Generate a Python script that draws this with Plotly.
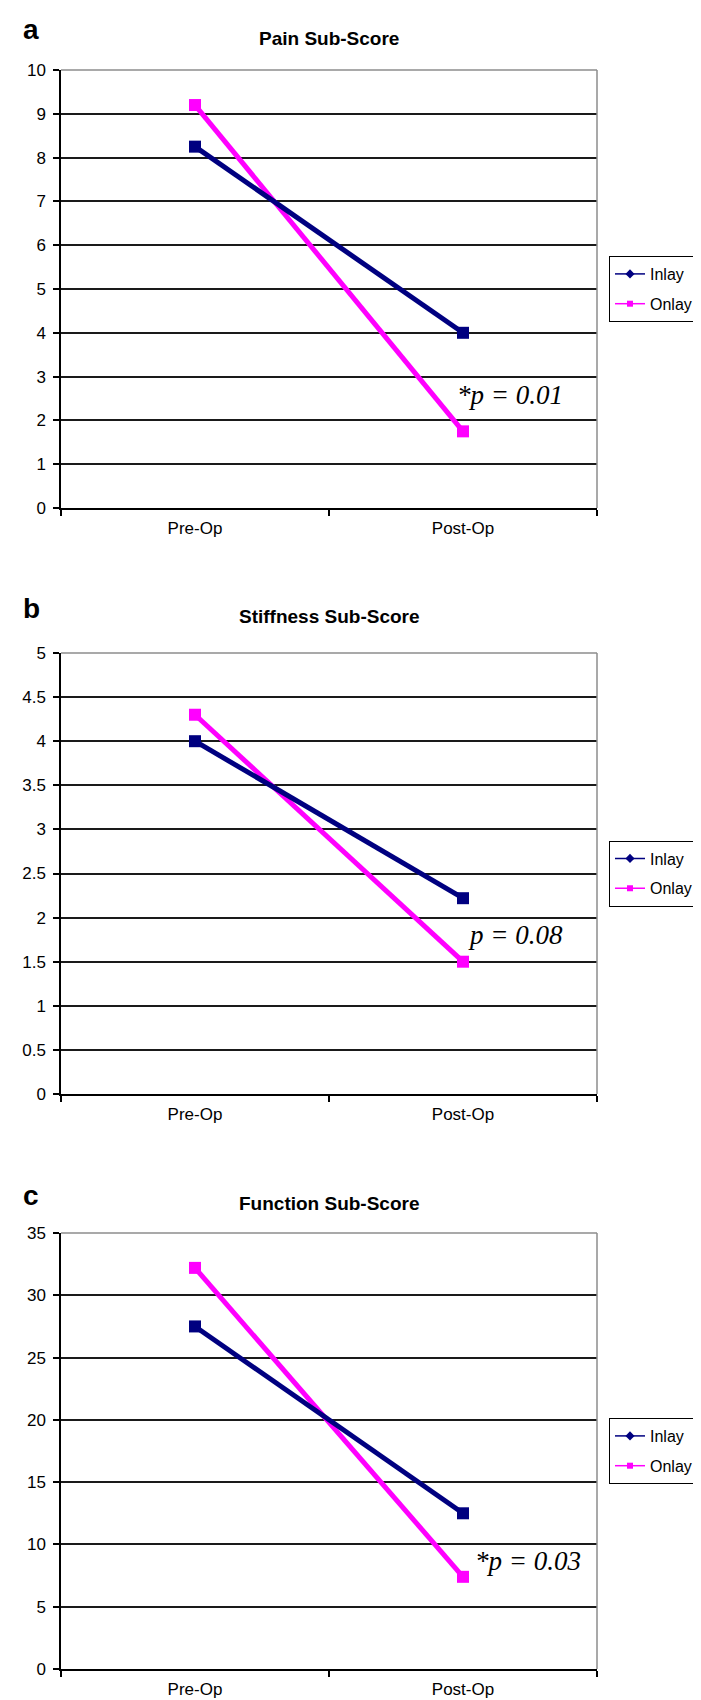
import plotly.graph_objects as go

W, H = 701, 1700

categories = ["Pre-Op", "Post-Op"]

pain_inlay = [8.25, 4.0]
pain_onlay = [9.2, 1.75]
stiff_inlay = [4.0, 2.22]
stiff_onlay = [4.3, 1.5]
func_inlay = [27.5, 12.5]
func_onlay = [32.2, 7.4]

panel_letters = ["a", "b", "c"]
panel_titles = ["Pain Sub-Score", "Stiffness Sub-Score", "Function Sub-Score"]
p_texts = ["*p = 0.01", "p = 0.08", "*p = 0.03"]
y_ranges = [[0, 10], [0, 5], [0, 35]]
y_dticks = [1, 0.5, 5]

series = [(pain_inlay, pain_onlay), (stiff_inlay, stiff_onlay), (func_inlay, func_onlay)]

# pixel layout (top, bottom of plot area), title y, p-text position
plot_px = [(62, 500), (645, 1086), (1225, 1661)]
title_px = [30, 608, 1195]
ptext_px = [(502, 387), (507, 927), (520, 1553)]
x_left, x_right = 53, 589

NAVY = "#000080"
MAGENTA = "#FF00FF"
SANS = "Arial, Liberation Sans, sans-serif"
SERIF = "Times New Roman, Liberation Serif, serif"

def px_y(py):
    return 1 - py / H

def px_x(px):
    return px / W

fig = go.Figure()
layout = dict(
    width=W, height=H,
    margin=dict(l=0, r=0, t=0, b=0, autoexpand=False),
    paper_bgcolor="white", plot_bgcolor="white",
    showlegend=True,
    annotations=[], shapes=[],
)

for i in range(3):
    sfx = "" if i == 0 else str(i + 1)
    xa, ya = "x" + sfx, "y" + sfx
    leg = "legend" + sfx
    inlay, onlay = series[i]
    # main lines
    fig.add_trace(go.Scatter(x=categories, y=onlay, mode="lines+markers",
                             line=dict(color=MAGENTA, width=5),
                             marker=dict(symbol="square", size=12, color=MAGENTA),
                             showlegend=False, xaxis=xa, yaxis=ya))
    fig.add_trace(go.Scatter(x=categories, y=inlay, mode="lines+markers",
                             line=dict(color=NAVY, width=5),
                             marker=dict(symbol="square", size=12, color=NAVY),
                             showlegend=False, xaxis=xa, yaxis=ya))
    # legend entries
    fig.add_trace(go.Scatter(x=[None], y=[None], mode="lines+markers", name="Inlay",
                             line=dict(color=NAVY, width=1.5),
                             marker=dict(symbol="diamond", size=7, color=NAVY),
                             legend=leg, legendgroup="inlay%d" % i, xaxis=xa, yaxis=ya))
    fig.add_trace(go.Scatter(x=[None], y=[None], mode="lines+markers", name="Onlay",
                             line=dict(color=MAGENTA, width=1.5),
                             marker=dict(symbol="square", size=6, color=MAGENTA),
                             legend=leg, legendgroup="onlay%d" % i, xaxis=xa, yaxis=ya))

    top, bot = plot_px[i]
    layout["xaxis" + sfx] = dict(
        domain=[px_x(x_left), px_x(x_right)], anchor=ya,
        type="category", categoryorder="array", categoryarray=categories,
        range=[-0.5, 1.5], tickson="boundaries", ticks="outside", ticklen=6,
        tickcolor="black", tickwidth=1.5,
        showline=True, linecolor="black", linewidth=1.5, showgrid=False,
        zeroline=False, tickfont=dict(family=SANS, size=17, color="black"),
        ticklabelstandoff=4, fixedrange=True,
    )
    layout["yaxis" + sfx] = dict(
        domain=[px_y(bot), px_y(top)], anchor=xa,
        range=y_ranges[i], dtick=y_dticks[i], tick0=0,
        ticks="outside", ticklen=6, tickcolor="black", tickwidth=1.5,
        showline=True, linecolor="black", linewidth=1.5,
        showgrid=True, gridcolor="#1a1a1a", gridwidth=1.5, zeroline=False,
        tickfont=dict(family=SANS, size=17, color="black"),
        ticklabelstandoff=4, fixedrange=True,
    )
    layout[leg] = dict(
        x=px_x(601), xanchor="left", y=px_y((top + bot) / 2), yanchor="middle",
        xref="paper", yref="paper",
        bordercolor="black", borderwidth=1, bgcolor="white",
        font=dict(family=SANS, size=16, color="black"),
        tracegroupgap=6,
        itemclick=False, itemdoubleclick=False,
    )
    # plot-area border (gray) top and right
    layout["shapes"].append(dict(type="line", xref=xa + " domain", yref=ya + " domain",
                                 x0=0, x1=1, y0=1, y1=1, line=dict(color="#8c8c8c", width=1.5)))
    layout["shapes"].append(dict(type="line", xref=xa + " domain", yref=ya + " domain",
                                 x0=1, x1=1, y0=0, y1=1, line=dict(color="#8c8c8c", width=1.5)))
    # title
    layout["annotations"].append(dict(
        text="<b>%s</b>" % panel_titles[i], xref="paper", yref="paper",
        x=px_x((x_left + x_right) / 2), y=px_y(title_px[i]),
        xanchor="center", yanchor="middle", showarrow=False,
        font=dict(family=SANS, size=19, color="black")))
    # panel letter
    layout["annotations"].append(dict(
        text="<b>%s</b>" % panel_letters[i], xref="paper", yref="paper",
        x=px_x(23), y=px_y(title_px[i] - 8),
        xanchor="center", yanchor="middle", showarrow=False,
        font=dict(family=SANS, size=28, color="black")))
    # p-value text
    px, py = ptext_px[i]
    layout["annotations"].append(dict(
        text="<i>%s</i>" % p_texts[i], xref="paper", yref="paper",
        x=px_x(px), y=px_y(py), xanchor="center", yanchor="middle", showarrow=False,
        font=dict(family=SERIF, size=27, color="black")))

fig.update_layout(**layout)
fig.write_html("out.html")
